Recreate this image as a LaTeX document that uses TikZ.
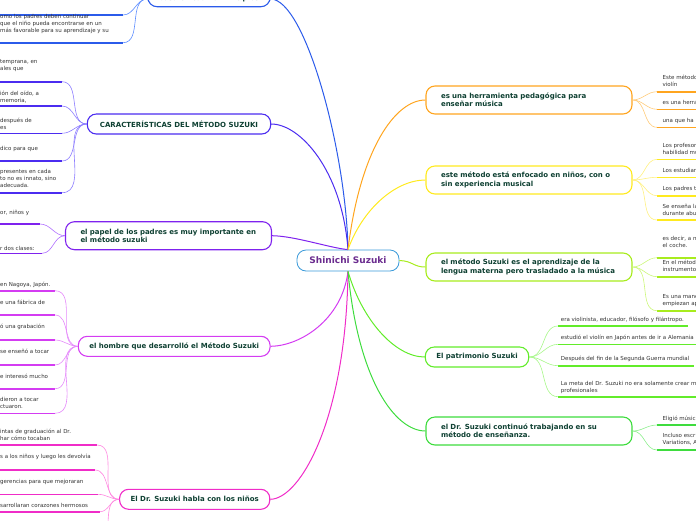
\documentclass[tikz,border=0pt]{standalone}
\usepackage{fontspec}
\setmainfont{DejaVu Sans}
\definecolor{shinline}{HTML}{3A9AD9}
\definecolor{shintext}{HTML}{6B2C8F}
\definecolor{topictext}{HTML}{0E4032}
\definecolor{leaftext}{HTML}{333333}
\definecolor{basac}{HTML}{2B5BEA}
\definecolor{basal}{HTML}{5C8CFF}
\definecolor{carac}{HTML}{4B2CF0}
\definecolor{caral}{HTML}{8C7CFF}
\definecolor{papec}{HTML}{7F22EE}
\definecolor{papel}{HTML}{B070FF}
\definecolor{hombc}{HTML}{D43CF2}
\definecolor{hombl}{HTML}{E58AFA}
\definecolor{hablc}{HTML}{F02CC8}
\definecolor{habll}{HTML}{FF88E0}
\definecolor{herrc}{HTML}{FFA51F}
\definecolor{herrl}{HTML}{FFCB7A}
\definecolor{enfoc}{HTML}{FFEA1F}
\definecolor{enfol}{HTML}{FFF080}
\definecolor{aprec}{HTML}{A8EC1E}
\definecolor{aprel}{HTML}{CCF77A}
\definecolor{patrc}{HTML}{62EC2A}
\definecolor{patrl}{HTML}{A8F78A}
\definecolor{contc}{HTML}{3EDC3E}
\definecolor{contl}{HTML}{8CEE8C}

\begin{document}
\begin{tikzpicture}[x=1pt,y=-1pt,
	topic/.style={draw=#1, fill=white, line width=1.1pt, rounded corners=9pt, text=topictext,
		font=\fontsize{7}{8.4}\selectfont\bfseries, minimum height=20pt, inner xsep=11pt},
	wide/.style={text width=176pt, align=left, inner xsep=15pt, minimum height=28pt},
	leaf/.style={anchor=south west, inner xsep=0pt, inner ysep=#1, text depth=1.3pt, align=left,
		text=leaftext, font=\fontsize{5.5}{6.8}\selectfont},
	leaf/.default=3pt,
	ul/.style={draw=#1, line width=1.6pt},
	br/.style={draw=#1, line width=0.6pt},
	main/.style={draw=#1, line width=1pt}]
	\useasboundingbox (0,0) rectangle (696,520);
	
	% central topic
	\node[topic=shinline, line width=0.8pt, text=shintext, font=\fontsize{9}{10}\selectfont\bfseries,
		minimum width=102pt, minimum height=21pt] (shin) at (348,260.5) {Shinichi Suzuki};
	
	% main topics, left
	\node[topic=basac, minimum width=122pt, minimum height=15.4pt, inner ysep=1pt] (basa) at (209,-1) {basa en cuatro Principios};
	\node[topic=carac, minimum width=183.4pt] (cara) at (179,124) {CARACTERÍSTICAS DEL MÉTODO SUZUKI};
	\node[topic=papec, wide] (pape) at (168.5,235.7) {el papel de los padres es muy importante en\\el método suzuki};
	\node[topic=hombc, minimum width=190pt] (homb) at (174.2,346.3) {el hombre que desarrolló el Método Suzuki};
	\node[topic=hablc, minimum width=149.3pt] (habl) at (194.7,499.3) {El Dr. Suzuki habla con los niños};
	
	% main topics, right
	\node[topic=herrc, wide] (herr) at (529,100) {es una herramienta pedagógica para\\enseñar música};
	\node[topic=enfoc, wide] (enfo) at (529,180) {este método está enfocado en niños, con o\\sin experiencia musical};
	\node[topic=aprec, wide] (apre) at (529,267) {el método Suzuki es el aprendizaje de la\\lengua materna pero trasladado a la música};
	\node[topic=patrc, minimum width=102pt] (patr) at (477,357) {El patrimonio Suzuki};
	\node[topic=contc, wide] (cont) at (529,431) {el Dr. Suzuki continuó trabajando en su\\método de enseñanza.};
	
	% connectors from the centre
	\draw[main=basac] (shin.north) .. controls (346,150) and (305,-1) .. (basa.east);
	\draw[main=carac] (shin.north) .. controls (342,170) and (300,124) .. (cara.east);
	\draw[main=papec] (shin.north) .. controls (330,248) and (295,236) .. (pape.east);
	\draw[main=hombc] (shin.south) .. controls (342,320) and (300,346) .. (homb.east);
	\draw[main=hablc] (shin.south) .. controls (346,420) and (300,499) .. (habl.east);
	\draw[main=herrc] (shin.north) .. controls (360,150) and (395,100) .. (herr.west);
	\draw[main=enfoc] (shin.north) .. controls (362,210) and (395,180) .. (enfo.west);
	\draw[main=aprec] (shin.east) .. controls (413,261) and (413,267) .. (apre.west);
	\draw[main=patrc] (shin.south) .. controls (362,320) and (395,357) .. (patr.west);
	\draw[main=contc] (shin.south) .. controls (358,380) and (395,431) .. (cont.west);
	
	% basa children
	\coordinate (bs1) at (-2,15);
	\coordinate (be1) at (123,15);
	\draw[ul=basac] (bs1) -- (be1);
	\draw[br=basal] (basa.west) to[out=180,in=0] (be1);
	\coordinate (be2) at (123,42.7);
	\node[leaf=8.9pt] (bl2) at (0,42.7) {omo los padres deben continuar\\que el niño pueda encontrarse en un\\más favorable para su aprendizaje y su};
	\draw[ul=basac] (bl2.south west) -- (be2);
	\draw[br=basal] (basa.west) to[out=180,in=0] (be2);
	
	% caracteristicas children
	\foreach \x/\u/\g/\t [count=\i] in {62/81.7/9.9/{temprana, en\\ales que},
		62/106/2.2/{ión del oído, a\\memoria,}, 62/133.3/2.5/{después de\\es},
		62/161/9.2/{dico para que}, 62/192.7/3.9/{presentes en cada\\to no es innato, sino\\adecuada.}}{
		\coordinate (ce\i) at (\x,\u);
		\node[leaf=\g pt] (cl\i) at (0,\u) {\t};
		\draw[ul=carac] (cl\i.south west) -- (ce\i);
		\draw[br=caral] (cara.west) to[out=180,in=0] (ce\i);
	}
	
	% papel children
	\foreach \x/\u/\g/\t [count=\i] in {40/224/8.5/{or, niños y}, 42/253.3/1/{r dos clases:}}{
		\coordinate (pe\i) at (\x,\u);
		\node[leaf=\g pt] (pl\i) at (0,\u) {\t};
		\draw[ul=papec] (pl\i.south west) -- (pe\i);
		\draw[br=papel] (pape.west) to[out=180,in=0] (pe\i);
	}
	
	% hombre children
	\foreach \x/\u/\g/\t [count=\i] in {55/290.7/2.9/{en Nagoya, Japón.}, 55/315/8.9/{e una fábrica de},
		55/340/9.9/{ó una grabación}, 55/365/10.2/{se enseñó a tocar}, 55/388.7/9.2/{e interesó mucho},
		55/413.3/3.8/{dieron a tocar\\ctuaron.}}{
		\coordinate (he\i) at (\x,\u);
		\node[leaf=\g pt] (hl\i) at (0,\u) {\t};
		\draw[ul=hombc] (hl\i.south west) -- (he\i);
		\draw[br=hombl] (homb.west) to[out=180,in=0] (he\i);
	}
	
	% habla children
	\foreach \x/\u/\g/\t [count=\i] in {97/445/3.2/{intas de graduación al Dr.\\har cómo tocaban},
		95/470/9.9/{s a los niños y luego les devolvía}, 98/494.3/9.8/{gerencias para que mejoraran},
		100/511.7/3.2/{sarrollaran corazones hermosos}}{
		\coordinate (ae\i) at (\x,\u);
		\node[leaf=\g pt] (al\i) at (0,\u) {\t};
		\draw[ul=hablc] (al\i.south west) -- (ae\i);
		\draw[br=habll] (habl.west) to[out=180,in=0] (ae\i);
	}
	\coordinate (ae5) at (97,545);
	\draw[br=habll] (habl.west) to[out=180,in=0] (ae5);
	
	% herramienta children
	\foreach \u/\g/\t [count=\i] in {91.7/3.9/{Este método\\violín}, 109.3/3.5/{es una herra}, 127.3/3.5/{una que ha}}{
		\coordinate (re\i) at (657,\u);
		\node[leaf=\g pt, xshift=5.5pt] (rl\i) at (re\i) {\t};
		\draw[ul=herrc] (re\i) -- ++(45,0);
		\draw[br=herrl] (herr.east) to[out=0,in=180] (re\i);
	}
	
	% enfocado children
	\foreach \u/\g/\t [count=\i] in {159.3/3.8/{Los profesor\\habilidad mu}, 177.3/3.8/{Los estudian},
		195.7/4.2/{Los padres t}, 220/3.2/{Se enseña la\\durante abu}}{
		\coordinate (ee\i) at (657,\u);
		\node[leaf=\g pt, xshift=5.5pt] (el\i) at (ee\i) {\t};
		\draw[ul=enfoc] (ee\i) -- ++(45,0);
		\draw[br=enfol] (enfo.east) to[out=0,in=180] (ee\i);
	}
	
	% aprendizaje children
	\foreach \u/\g/\t [count=\i] in {257.7/8.9/{es decir, a n\\el coche.}, 276.7/3.9/{En el métod\\instrumento},
		310.7/3.6/{Es una mane\\empiezan ap}}{
		\coordinate (le\i) at (657,\u);
		\node[leaf=\g pt, xshift=5.5pt] (ll\i) at (le\i) {\t};
		\draw[ul=aprec] (le\i) -- ++(45,0);
		\draw[br=aprel] (apre.east) to[out=0,in=180] (le\i);
	}
	
	% patrimonio children
	\foreach \u/\g/\t [count=\i] in {326/3.2/{era violinista, educador, filósofo y filántropo.},
		344.3/3.2/{estudió el violín en Japón antes de ir a Alemania},
		365.7/3.6/{Después del fin de la Segunda Guerra mundial},
		396.7/3.2/{La meta del Dr. Suzuki no era solamente crear m\\profesionales}}{
		\coordinate (te\i) at (558,\u);
		\node[leaf=\g pt, xshift=2.7pt] (tl\i) at (te\i) {\t};
		\draw[ul=patrc] (te\i) -- ([xshift=4pt]te\i -| tl\i.east);
		\draw[br=patrl] (patr.east) to[out=0,in=180] (te\i);
	}
	
	% continuo children
	\foreach \u/\g/\t [count=\i] in {425/3.2/{Eligió músic}, 450/4.5/{Incluso escr\\Variations, A}}{
		\coordinate (oe\i) at (657,\u);
		\node[leaf=\g pt, xshift=5.5pt] (ol\i) at (oe\i) {\t};
		\draw[ul=contc] (oe\i) -- ++(45,0);
		\draw[br=contl] (cont.east) to[out=0,in=180] (oe\i);
	}
\end{tikzpicture}
\end{document}
